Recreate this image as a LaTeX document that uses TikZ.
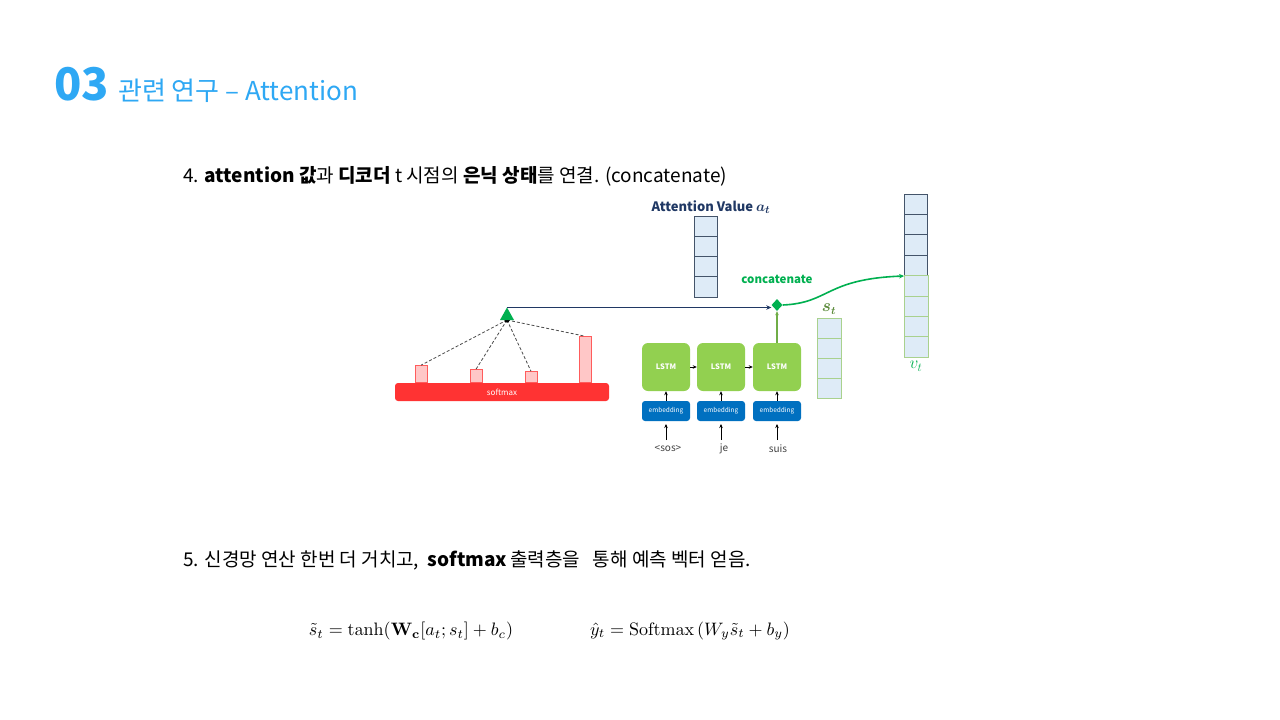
\documentclass[tikz,border=0pt]{standalone}
\usepackage{amsmath}
\usepackage{bm}
\usepackage[no-math]{fontspec}
\setmainfont{Noto Sans CJK KR}
\usetikzlibrary{arrows.meta,shapes.geometric}
\definecolor{titleblue}{HTML}{2EA8F4}
\definecolor{navy}{HTML}{203864}
\definecolor{cgreen}{HTML}{00B050}
\definecolor{lgreen}{HTML}{92D050}
\definecolor{sgreen}{HTML}{70AD47}
\definecolor{cellfill}{HTML}{DEEBF7}
\definecolor{sred}{HTML}{FF3333}
\definecolor{pinkfill}{HTML}{FFC7C7}
\definecolor{embblue}{HTML}{0070C0}
\definecolor{celledgeb}{HTML}{44546A}
\definecolor{celledgeg}{HTML}{A9D18E}
\begin{document}
\begin{tikzpicture}[x=1pt,y=-1pt,
  txt/.style={anchor=base west, inner sep=0, font=\fontsize{19}{22}\selectfont},
  lstm/.style={fill=lgreen, rounded corners=6, minimum width=48, minimum height=48, inner sep=0, text=white, font=\fontsize{7.5}{8}\selectfont\bfseries},
  emb/.style={fill=embblue, rounded corners=3, minimum width=48, minimum height=20, inner sep=0, text=white, font=\fontsize{6.5}{7}\selectfont},
  word/.style={inner sep=1, text=black!75, font=\fontsize{10}{11}\selectfont},
  blk/.style={-{Stealth[length=4,width=3.5]}, line width=0.9, black},
  cellB/.style={draw=celledgeb, fill=cellfill, line width=0.8, minimum width=23, inner sep=0},
  cellG/.style={draw=celledgeg, fill=cellfill, line width=0.8, minimum width=24, inner sep=0},
  pbar/.style={draw=sred!80, fill=pinkfill, line width=0.8, minimum width=12, inner sep=0, anchor=south},
  dsh/.style={densely dashed, gray!60!black, line width=0.8}
]
\useasboundingbox (0,0) rectangle (1280,720);
\fill[white] (0,0) rectangle (1280,720);

% title
\node[anchor=base west, inner sep=0, text=titleblue, font=\fontsize{45}{50}\selectfont\bfseries] (t03) at (54,100) {03};
\node[anchor=base west, inner sep=0, text=titleblue, font=\fontsize{26}{30}\selectfont] (ttl) at (118,100) {관련 연구 – Attention};

% step 4
\node[txt] (s4) at (183,182) {4. \textbf{attention 값}과 \textbf{디코더} t 시점의 \textbf{은닉 상태}를 연결. (concatenate)};

% softmax part
\node[fill=sred, rounded corners=3, minimum width=214, minimum height=18, inner sep=0, text=white, font=\fontsize{8}{9}\selectfont] (sm) at (502,392) {softmax};
\node[pbar, minimum height=17] (b1) at (421,383) {};
\node[pbar, minimum height=13] (b2) at (476,383) {};
\node[pbar, minimum height=11] (b3) at (531,383) {};
\node[pbar, minimum height=46] (b4) at (585,383) {};
\coordinate (hub) at (507,320);
\coordinate (apex) at (507,307.5);
\draw[dsh] (hub) -- (b1.north);
\draw[dsh] (hub) -- (b2.north);
\draw[dsh] (hub) -- (b3.north);
\draw[dsh] (hub) -- (b4.north);
\fill[black] (hub) circle (2.6);
\fill[cgreen] (apex) -- (514,320) -- (500,320) -- cycle;

% attention value vector
\node[text=navy, inner sep=0, font=\fontsize{13}{14}\selectfont\bfseries] (alab) at (711,207) {Attention Value \scalebox{1.2}{$\bm{a_t}$}};
\foreach \i in {1,...,4} {
  \node[cellB, minimum height=20.25] (a\i) at (705.5,{216+20.25*(\i-0.5)}) {};
}

% diamond
\node[diamond, fill=cgreen, minimum width=11, minimum height=12, inner sep=0] (dm) at (777,305) {};
\node[text=cgreen, inner sep=0, font=\fontsize{11.5}{12}\selectfont\bfseries] (clab) at (777,279) {concatenate};
\draw[navy, line width=1.8, -{Stealth[length=5,width=4.5]}] (apex) -- (apex -| dm.west);

% LSTM chain
\node[lstm] (l1) at (666,367) {LSTM};
\node[lstm] (l2) at (721,367) {LSTM};
\node[lstm] (l3) at (777,367) {LSTM};
\node[emb] (e1) at (666,411) {embedding};
\node[emb] (e2) at (721,411) {embedding};
\node[emb] (e3) at (777,411) {embedding};
\node[word] (w1) at (668,449) {<sos>};
\node[word] (w2) at (724,449) {je};
\node[word] (w3) at (778,449) {suis};
\draw[blk] (l1.east) -- (l2.west);
\draw[blk] (l2.east) -- (l3.west);
\foreach \i in {1,2,3} {
  \draw[blk] (e\i.north) -- (l\i.south);
  \draw[blk] (e\i.south |- 0,440) -- (e\i.south |- 0,424);
}
\draw[sgreen, line width=1.1, -{Stealth[length=4,width=3.5]}] (l3.north) -- (dm.south);

% s_t vector
\node[text=sgreen!80!black, inner sep=0, font=\fontsize{16}{17}\selectfont] (slab) at (829,309) {$\bm{s_t}$};
\foreach \i in {1,...,4} {
  \node[cellG, minimum height=20] (s\i) at (829,{318+20*(\i-0.5)}) {};
}

% v_t vector
\foreach \i in {1,...,4} {
  \node[cellB, minimum height=20.4] (v\i) at (916,{194+20.4*(\i-0.5)}) {};
}
\foreach \i in {5,...,8} {
  \node[cellG, minimum height=20.4] (v\i) at (916,{194+20.4*(\i-0.5)}) {};
}
\node[text=cgreen, inner sep=0, font=\fontsize{18}{19}\selectfont] (vlab) at (916,366) {$v_t$};

\draw[cgreen, line width=1.6, -{Stealth[length=5,width=4.5]}] (dm.east) .. controls (830,303) and (825,279) .. (v4.south west);

% step 5
\node[txt] (s5) at (183,566) {5. 신경망 연산 한번 더 거치고, \ \textbf{softmax}\,출력층을 \ \ 통해 예측 벡터 얻음.};

% formulas
\node[inner sep=0] (f1) at (411,631) {\scalebox{1.8}{$\tilde{s}_t = \tanh(\mathbf{W}_{\mathbf{c}}[a_t;s_t] + b_c)$}};
\node[inner sep=0] (f2) at (690,631) {\scalebox{1.8}{$\hat{y}_t = \mathrm{Softmax}\left(W_y\tilde{s}_t + b_y\right)$}};
\end{tikzpicture}
\end{document}
